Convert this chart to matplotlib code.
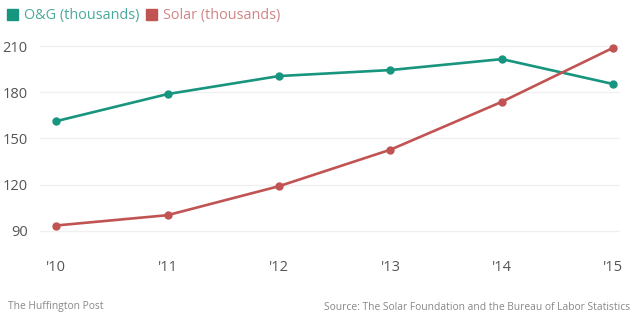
import matplotlib.pyplot as plt
from matplotlib.patches import Rectangle

# data
years = ["'10", "'11", "'12", "'13", "'14", "'15"]
og_jobs = [161.2, 178.8, 190.5, 194.4, 201.5, 185.3]
solar_jobs = [93.5, 100.2, 119.0, 142.7, 173.8, 208.9]
y_ticks = [90, 120, 150, 180, 210]

teal = '#17957f'
red = '#c15353'

plt.rcParams['font.family'] = ['Open Sans', 'DejaVu Sans']

W, H = 632, 318
fig = plt.figure(figsize=(W / 100, H / 100), dpi=100)
ax = fig.add_axes([40 / W, (H - 250) / H, (620 - 40) / W, (250 - 38) / H])

x = range(len(years))
ax.plot(x, og_jobs, color=teal, lw=1.9, marker='o', ms=5, zorder=3)
ax.plot(x, solar_jobs, color=red, lw=1.9, marker='o', ms=5, zorder=3)

ax.set_xlim(-0.144, 5.06)
ax.set_ylim(77.6, 215.2)
ax.set_yticks(y_ticks)
ax.set_xticks(list(x))
ax.set_xticklabels(years)
ax.yaxis.grid(True, color='#f0f0f0', lw=1)
ax.set_axisbelow(True)
for s in ax.spines.values():
    s.set_visible(False)
ax.tick_params(axis='both', length=0, labelsize=10.5, colors='#555555')
ax.tick_params(axis='y', pad=9)
ax.tick_params(axis='x', pad=7)

# legend
fig.patches.append(Rectangle((7 / W, (H - 20) / H), 11 / W, 11 / H,
                             transform=fig.transFigure, color=teal))
fig.text(24 / W, (H - 15) / H, 'O&G (thousands)', color='#4aa99a',
         fontsize=10.4, va='center')
fig.patches.append(Rectangle((146 / W, (H - 20) / H), 11 / W, 11 / H,
                             transform=fig.transFigure, color=red))
fig.text(163 / W, (H - 15) / H, 'Solar (thousands)', color='#d08585',
         fontsize=10.4, va='center')

# footer
fig.text(8 / W, (H - 307) / H, 'The Huffington Post', color='#888888',
         fontsize=7.4, va='center')
fig.text(630 / W, (H - 307) / H,
         'Source: The Solar Foundation and the Bureau of Labor Statistics',
         color='#888888', fontsize=7.4, va='center', ha='right')

fig.savefig('out.png', dpi=100)
